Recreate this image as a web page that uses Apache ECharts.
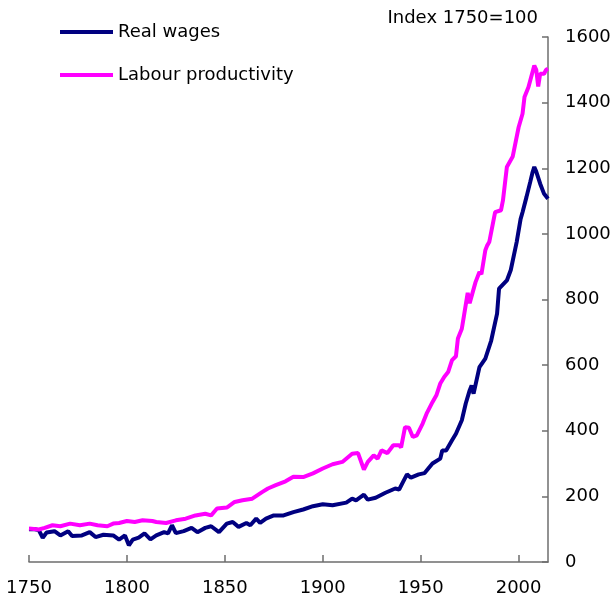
<!DOCTYPE html>
<html>
<head>
<meta charset="utf-8">
<script src="https://cdn.jsdelivr.net/npm/echarts@6/dist/echarts.min.js"></script>
<style>
  html, body { margin: 0; padding: 0; background: #fff; }
  #chart { width: 616px; height: 599px; }
</style>
</head>
<body>
<div id="chart"></div>
<script>
// real wages, index 1750=100
var wageYears = [1750, 1753, 1755, 1757, 1759, 1763, 1766, 1770, 1772, 1777, 1781, 1784, 1788, 1793, 1796, 1799,
	1801, 1803, 1806, 1809, 1812, 1815, 1819, 1821, 1823, 1825, 1829, 1833, 1836, 1840, 1843, 1847,
	1851, 1854, 1857, 1861, 1863, 1866, 1868, 1871, 1875, 1880, 1885, 1890, 1895, 1900, 1905, 1912,
	1915, 1917, 1921, 1923, 1927, 1932, 1937, 1939, 1941, 1943, 1945, 1949, 1952, 1953, 1956, 1960,
	1961, 1963, 1966, 1968, 1971, 1973, 1975, 1976, 1977, 1980, 1983, 1986, 1989, 1990, 1994, 1996,
	1999, 2001, 2002, 2004, 2006, 2007, 2008, 2009, 2011, 2013, 2015];
var wageValues = [100, 100, 97, 74, 90, 94, 81, 94, 79, 81, 91, 76, 83, 81, 68, 81,
	51, 68, 74, 87, 69, 81, 91, 87, 112, 88, 94, 104, 91, 104, 109, 91,
	117, 122, 107, 119, 112, 132, 119, 132, 142, 142, 152, 160, 170, 176, 173, 181,
	193, 188, 205, 190, 196, 211, 224, 221, 244, 267, 257, 267, 271, 268, 300, 315,
	340, 340, 371, 391, 432, 483, 523, 538, 513, 594, 620, 675, 757, 833, 858, 890,
	975, 1045, 1066, 1112, 1160, 1185, 1204, 1190, 1153, 1122, 1107];

// labour productivity, index 1750=100
var prodYears = [1750, 1755, 1758, 1762, 1766, 1771, 1776, 1781, 1785, 1790, 1793, 1796, 1800, 1804, 1808, 1813,
	1815, 1820, 1825, 1830, 1835, 1840, 1843, 1846, 1851, 1855, 1859, 1864, 1869, 1872, 1876, 1881,
	1885, 1890, 1895, 1900, 1905, 1910, 1915, 1918, 1921, 1923, 1926, 1928, 1930, 1933, 1936, 1939,
	1940, 1942, 1944, 1946, 1948, 1951, 1953, 1956, 1958, 1960, 1962, 1964, 1966, 1968, 1969, 1971,
	1972, 1974, 1975, 1978, 1980, 1981, 1983, 1984, 1985, 1988, 1991, 1992, 1994, 1997, 1998, 2000,
	2002, 2003, 2005, 2008, 2009, 2010, 2011, 2013, 2014, 2015];
var prodValues = [102, 99, 104, 112, 109, 117, 112, 117, 112, 109, 117, 119, 125, 122, 127, 125,
	122, 119, 127, 132, 142, 147, 142, 163, 166, 183, 188, 193, 213, 224, 234, 246,
	260, 259, 270, 285, 298, 305, 330, 332, 282, 305, 325, 315, 340, 332, 356, 356,
	349, 411, 409, 381, 386, 422, 452, 487, 508, 544, 564, 579, 615, 627, 681, 711,
	747, 820, 789, 853, 884, 877, 950, 965, 975, 1066, 1072, 1102, 1204, 1236, 1239, 1325,
	1366, 1417, 1447, 1513, 1500, 1449, 1488, 1488, 1500, 1503];

var xTicks = [1750, 1800, 1850, 1900, 1950, 2000];
var yTicks = [0, 200, 400, 600, 800, 1000, 1200, 1400, 1600];

var toPairs = function(xs, ys) {
	var out = [];
	for (var i = 0; i < xs.length; i++) {
		out.push([xs[i], ys[i]]);
	}
	return out;
};

var chart = echarts.init(document.getElementById("chart"));
var font = "'DejaVu Sans', 'Liberation Sans', Arial, sans-serif";

chart.setOption({
	animation : false,
	textStyle : { fontFamily : font },
	grid : {
		left : 29,
		right : 68,
		top : 37,
		bottom : 37
	},
	legend : {
		orient : 'vertical',
		left : 55,
		top : 18,
		itemWidth : 53,
		itemHeight : 18,
		itemGap : 25,
		icon : 'path://M0,0 L53,0 L53,4 L0,4 Z',
		textStyle : { fontSize : 18, color : '#000', fontFamily : font },
		data : [ 'Real wages', 'Labour productivity' ]
	},
	graphic : [ {
		type : 'text',
		right : 78,
		top : 9,
		style : {
			text : 'Index 1750=100',
			fontSize : 18,
			fontFamily : font,
			fill : '#000'
		}
	} ],
	xAxis : {
		type : 'value',
		min : 1750,
		max : 2015,
		interval : 50,
		axisLine : { lineStyle : { color : '#6e6e6e', width : 1.5 } },
		axisTick : {
			inside : true,
			length : 7,
			lineStyle : { color : '#6e6e6e', width : 1.5 },
			customValues : xTicks
		},
		axisLabel : {
			fontSize : 18,
			color : '#000',
			margin : 17,
			customValues : xTicks,
			formatter : function(v) { return String(v); }
		},
		splitLine : { show : false }
	},
	yAxis : {
		type : 'value',
		position : 'right',
		min : 0,
		max : 1600,
		interval : 200,
		axisLine : { show : true, lineStyle : { color : '#6e6e6e', width : 1.5 } },
		axisTick : {
			show : true,
			inside : true,
			length : 6,
			lineStyle : { color : '#6e6e6e', width : 1.5 }
		},
		axisLabel : {
			fontSize : 18,
			color : '#000',
			margin : 17,
			customValues : yTicks,
			formatter : function(v) { return String(v); }
		},
		splitLine : { show : false }
	},
	series : [ {
		name : 'Real wages',
		type : 'line',
		symbol : 'none',
		color : '#000080',
		lineStyle : { color : '#000080', width : 4 },
		itemStyle : { color : '#000080' },
		data : toPairs(wageYears, wageValues)
	}, {
		name : 'Labour productivity',
		type : 'line',
		symbol : 'none',
		color : '#ff00ff',
		lineStyle : { color : '#ff00ff', width : 4 },
		itemStyle : { color : '#ff00ff' },
		data : toPairs(prodYears, prodValues)
	} ]
});
</script>
</body>
</html>
